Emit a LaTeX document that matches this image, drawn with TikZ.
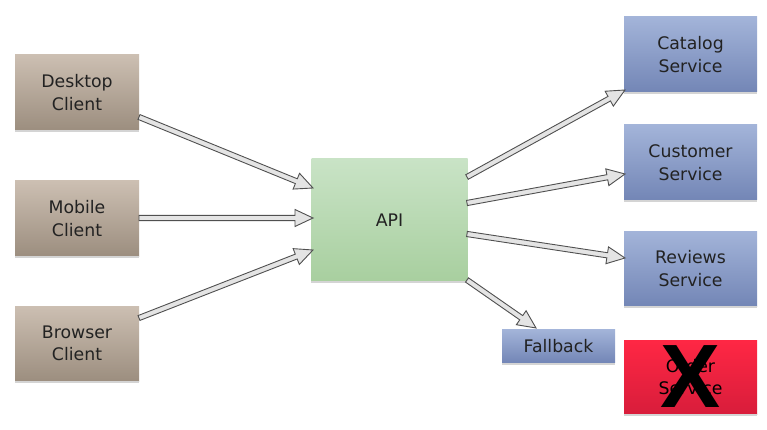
\documentclass[tikz,border=0pt]{standalone}
\usepackage{fontspec}
\setmainfont{DejaVu Sans}
\newfontfamily\xfont{Liberation Sans}
\usetikzlibrary{calc}
\definecolor{clitop}{HTML}{CCBFB2}
\definecolor{clibot}{HTML}{9C8E7F}
\definecolor{apitop}{HTML}{C9E3C6}
\definecolor{apibot}{HTML}{A8CF9F}
\definecolor{svctop}{HTML}{A3B4D9}
\definecolor{svcbot}{HTML}{7386B6}
\definecolor{ordtop}{HTML}{FF2744}
\definecolor{ordbot}{HTML}{D81D3B}
\definecolor{txt}{HTML}{222222}
\definecolor{shadowgray}{HTML}{D4D4D4}
\definecolor{arrfill}{HTML}{E4E4E4}
\definecolor{arrline}{HTML}{505050}
\tikzset{
  box/.style={inner sep=0pt, align=center, text=txt, font=\fontsize{17.3}{22.5}\selectfont},
  client/.style={box, top color=clitop, bottom color=clibot, minimum width=124pt, minimum height=75pt},
  svc/.style={box, top color=svctop, bottom color=svcbot, minimum width=133pt, minimum height=75pt},
  fatarrow/.style={draw=arrline, fill=arrfill, line width=0.9pt, line join=miter},
}
\newcommand\fatarrow[2]{%
  \coordinate (fah) at ($(#2)!18pt!(#1)$);
  \draw[fatarrow] ($(#1)!2.6pt!90:(#2)$) -- ($(fah)!2.6pt!90:(#2)$) -- ($(fah)!8.5pt!90:(#2)$) -- (#2)
    -- ($(fah)!8.5pt!-90:(#2)$) -- ($(fah)!2.6pt!-90:(#2)$) -- ($(#1)!2.6pt!-90:(#2)$) -- cycle;}
\begin{document}
\begin{tikzpicture}[x=1pt,y=-1pt]
\useasboundingbox (0,0) rectangle (767,430);
\node[client] (desk) at (77,92.5) {Desktop\\Client};
\node[client] (mob) at (77,218.5) {Mobile\\Client};
\node[client] (brow) at (77,343.5) {Browser\\Client};
\node[box, top color=apitop, bottom color=apibot, minimum width=156pt, minimum height=122pt] (api) at (389.5,220) {API};
\node[svc] (cat) at (690.5,54.5) {Catalog\\Service};
\node[svc] (cust) at (690.5,162.5) {Customer\\Service};
\node[svc] (rev) at (690.5,268.5) {Reviews\\Service};
\node[svc, minimum width=113pt, minimum height=33pt] (fb) at (558.5,346) {Fallback};
\node[box, text=black, top color=ordtop, bottom color=ordbot, minimum width=133pt, minimum height=74pt] (ord) at (690.5,377) {Order\\Service};
\node[font=\xfont\bfseries\fontsize{90}{90}\selectfont, inner sep=0pt, text=black] (x) at (690.5,377) {X};
\foreach \n in {desk,mob,brow,api,cat,cust,rev,fb,ord}
  \fill[shadowgray] (\n.south west) rectangle ([yshift=-2pt]\n.south east);
% arrow end points
\coordinate (d1) at (139,117); \coordinate (d2) at (313,188);
\coordinate (m1) at (139,218); \coordinate (m2) at (313,218);
\coordinate (b1) at (139,318); \coordinate (b2) at (313,250);
\coordinate (c1) at (467,177); \coordinate (c2) at (625,90);
\coordinate (u1) at (467,203); \coordinate (u2) at (625,174);
\coordinate (r1) at (467,234); \coordinate (r2) at (625,258);
\coordinate (f1) at (467,280); \coordinate (f2) at (536,328);
\fatarrow{d1}{d2}
\fatarrow{m1}{m2}
\fatarrow{b1}{b2}
\fatarrow{c1}{c2}
\fatarrow{u1}{u2}
\fatarrow{r1}{r2}
\fatarrow{f1}{f2}
\end{tikzpicture}
\end{document}
